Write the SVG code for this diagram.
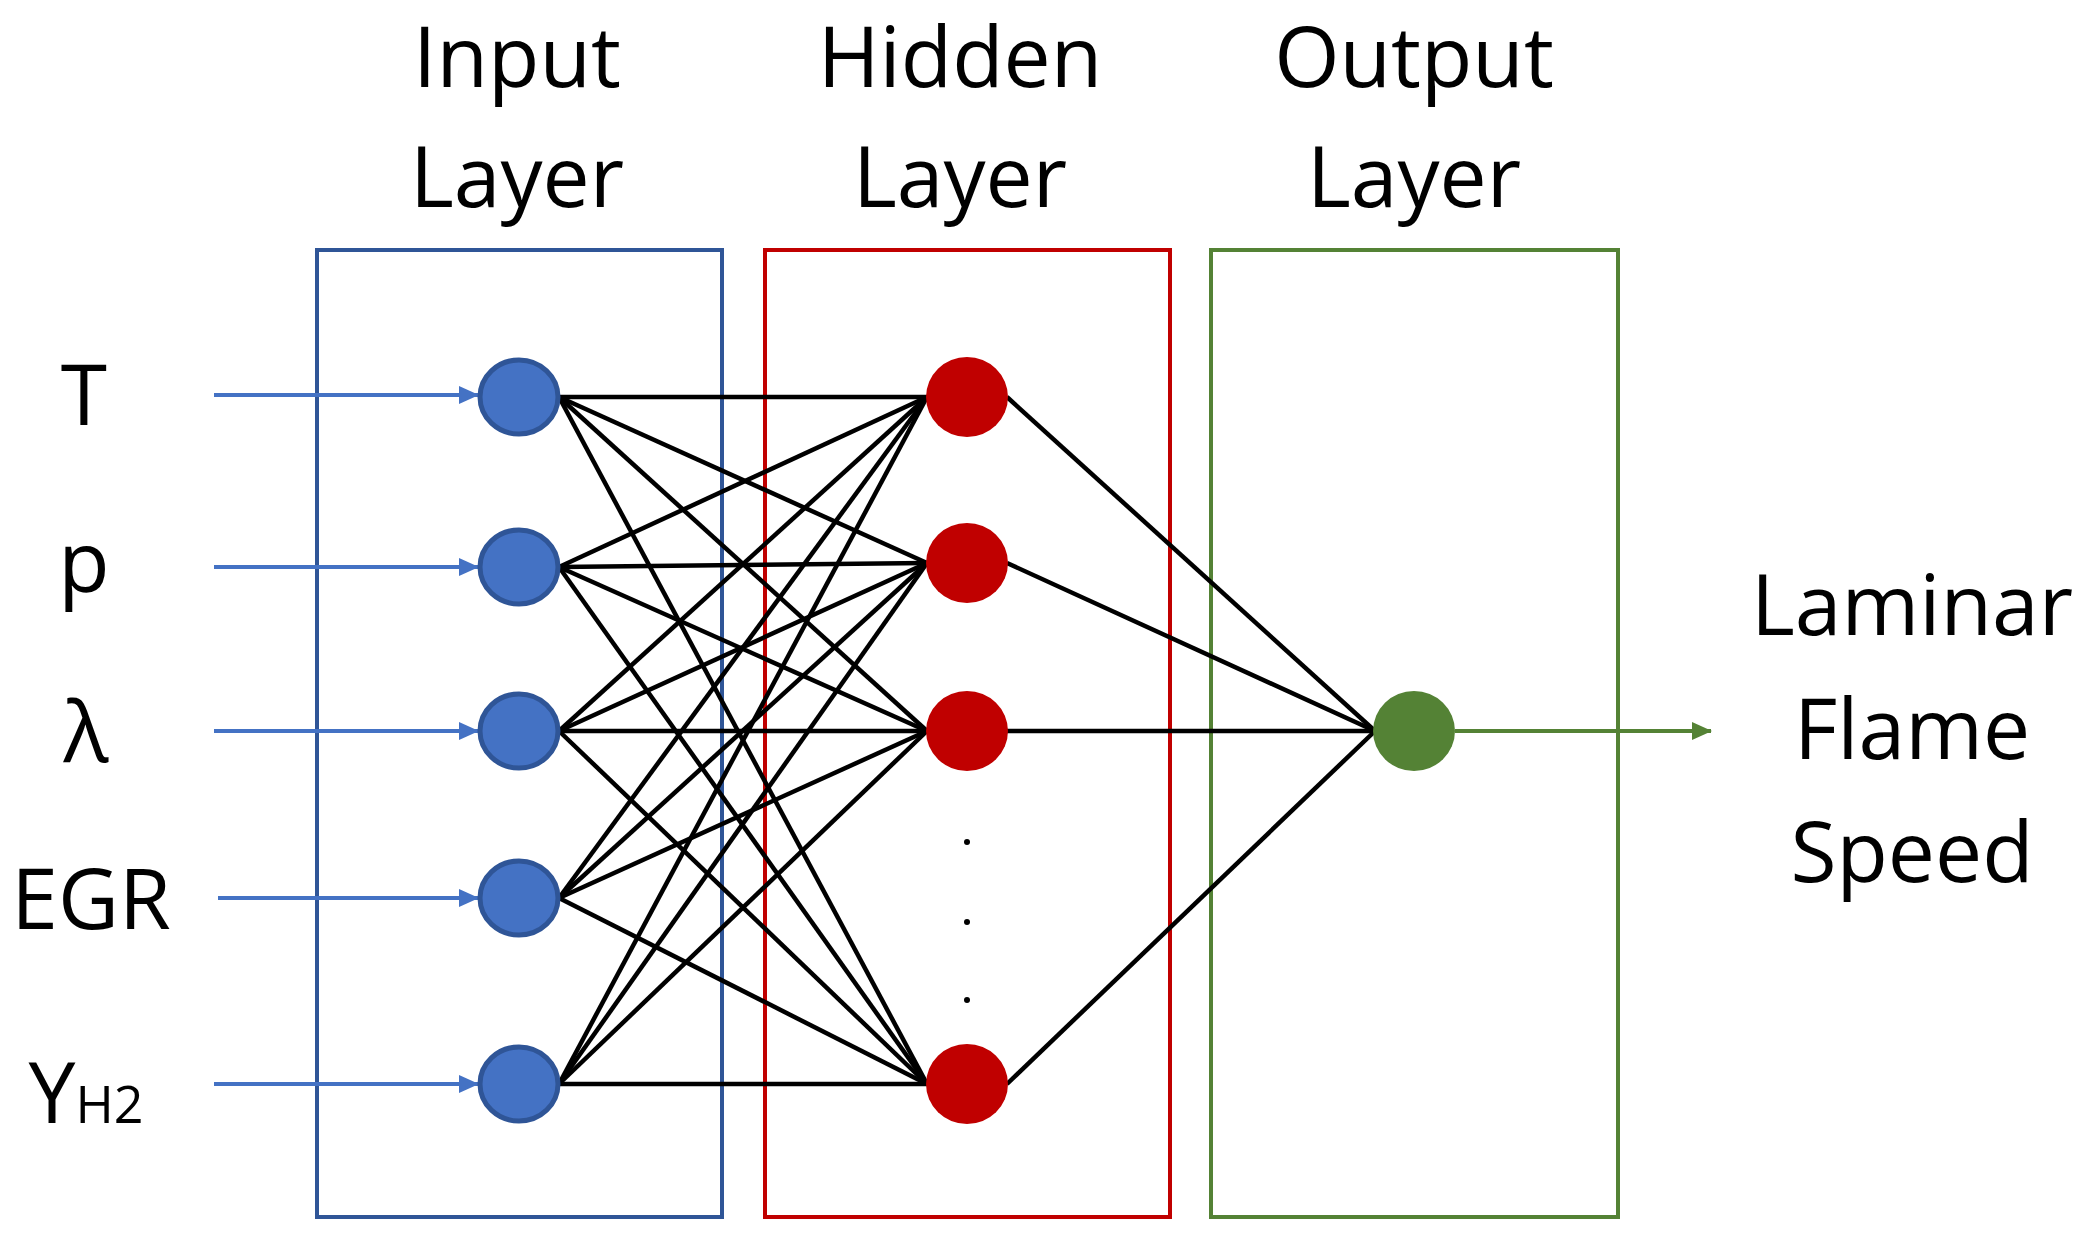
<svg xmlns="http://www.w3.org/2000/svg" width="2096" height="1233" viewBox="0 0 2096 1233">
<style>
text{font-family:"Open Sans","Noto Sans",sans-serif;font-size:84px;fill:#000;text-anchor:middle}
.k{stroke:#000;stroke-width:4.5}
.b{stroke:#4472C4;stroke-width:4}
.g{stroke:#548235;stroke-width:4}
.in{fill:#4472C4;stroke:#2F5597;stroke-width:5}
.hid{fill:#C00000}
.out{fill:#548235}
</style>
<defs>
<marker id="ab" markerWidth="20" markerHeight="18" refX="19" refY="9" orient="auto" markerUnits="userSpaceOnUse" viewBox="0 0 20 18"><path d="M0,0 L20,9 L0,18z" fill="#4472C4"/></marker>
<marker id="ag" markerWidth="20" markerHeight="18" refX="19" refY="9" orient="auto" markerUnits="userSpaceOnUse" viewBox="0 0 20 18"><path d="M0,0 L20,9 L0,18z" fill="#548235"/></marker>
</defs>
<rect width="2096" height="1233" fill="#fff"/>
<g id="boxes" fill="none" stroke-width="4">
<rect x="317" y="250" width="405" height="967" stroke="#2F5597"/>
<rect x="765" y="250" width="405" height="967" stroke="#C00000"/>
<rect x="1211" y="250" width="407" height="967" stroke="#548235"/>
</g>
<g id="titles">
<text x="517" y="87">Input</text><text x="517" y="207">Layer</text>
<text x="960" y="87">Hidden</text><text x="960" y="207">Layer</text>
<text x="1414" y="87">Output</text><text x="1414" y="207">Layer</text>
</g>
<g id="connectors">
<line class="b" x1="214" y1="395" x2="478" y2="395" marker-end="url(#ab)"/>
<line class="b" x1="214" y1="567" x2="478" y2="567" marker-end="url(#ab)"/>
<line class="b" x1="214" y1="731" x2="478" y2="731" marker-end="url(#ab)"/>
<line class="b" x1="218" y1="898" x2="478" y2="898" marker-end="url(#ab)"/>
<line class="b" x1="214" y1="1084" x2="478" y2="1084" marker-end="url(#ab)"/>
<g class="k">
<line x1="559" y1="397" x2="927" y2="397"/><line x1="559" y1="397" x2="927" y2="563"/><line x1="559" y1="397" x2="927" y2="731"/><line x1="559" y1="397" x2="927" y2="1084"/>
<line x1="559" y1="567" x2="927" y2="397"/><line x1="559" y1="567" x2="927" y2="563"/><line x1="559" y1="567" x2="927" y2="731"/><line x1="559" y1="567" x2="927" y2="1084"/>
<line x1="559" y1="731" x2="927" y2="397"/><line x1="559" y1="731" x2="927" y2="563"/><line x1="559" y1="731" x2="927" y2="731"/><line x1="559" y1="731" x2="927" y2="1084"/>
<line x1="559" y1="898" x2="927" y2="397"/><line x1="559" y1="898" x2="927" y2="563"/><line x1="559" y1="898" x2="927" y2="731"/><line x1="559" y1="898" x2="927" y2="1084"/>
<line x1="559" y1="1084" x2="927" y2="397"/><line x1="559" y1="1084" x2="927" y2="563"/><line x1="559" y1="1084" x2="927" y2="731"/><line x1="559" y1="1084" x2="927" y2="1084"/>
<line x1="1007" y1="397" x2="1375" y2="731"/><line x1="1007" y1="563" x2="1375" y2="731"/><line x1="1007" y1="731" x2="1375" y2="731"/><line x1="1007" y1="1084" x2="1375" y2="731"/>
</g>
<line class="g" x1="1455" y1="731" x2="1711" y2="731" marker-end="url(#ag)"/>
</g>
<g id="input-nodes">
<ellipse class="in" cx="519" cy="397" rx="39" ry="37"/>
<ellipse class="in" cx="519" cy="567" rx="39" ry="37"/>
<ellipse class="in" cx="519" cy="731" rx="39" ry="37"/>
<ellipse class="in" cx="519" cy="898" rx="39" ry="37"/>
<ellipse class="in" cx="519" cy="1084" rx="39" ry="37"/>
</g>
<g id="hidden-nodes">
<ellipse class="hid" cx="967" cy="397" rx="41" ry="40"/>
<ellipse class="hid" cx="967" cy="563" rx="41" ry="40"/>
<ellipse class="hid" cx="967" cy="731" rx="41" ry="40"/>
<ellipse class="hid" cx="967" cy="1084" rx="41" ry="40"/>
<g fill="#000"><circle cx="967" cy="842" r="3"/><circle cx="967" cy="922" r="3"/><circle cx="967" cy="1000" r="3"/></g>
</g>
<g id="output-node"><ellipse class="out" cx="1414" cy="731" rx="41" ry="40"/></g>
<g id="labels">
<text x="84" y="425">T</text>
<text x="84" y="592">p</text>
<text x="86" y="762">λ</text>
<text x="91" y="929">EGR</text>
<text x="86" y="1123" font-size="92">Y<tspan font-size="52">H2</tspan></text>
<text x="1912" y="635">Laminar</text>
<text x="1912" y="759">Flame</text>
<text x="1912" y="882">Speed</text>
</g>
</svg>
